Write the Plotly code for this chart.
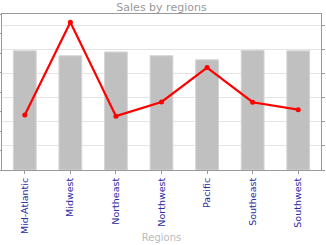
import plotly.graph_objects as go

regions = ["Mid-Atlantic", "Midwest", "Northeast", "Northwest", "Pacific", "Southeast", "Southwest"]
sales = [6.11, 5.86, 6.05, 5.86, 5.65, 6.13, 6.11]
growth = [2.29, 6.15, 2.24, 2.83, 4.26, 2.82, 2.51]

axis_col = "#999999"

fig = go.Figure()
fig.add_trace(go.Bar(
    x=regions, y=sales, yaxis="y",
    marker=dict(color="#c0c0c0", line=dict(color="#d4d4d4", width=1)),
    showlegend=False,
))
fig.add_trace(go.Scatter(
    x=regions, y=growth, yaxis="y2", mode="lines+markers",
    line=dict(color="#ff0000", width=2.2),
    marker=dict(color="#ff0000", size=5),
    showlegend=False,
))

fig.update_layout(
    width=326, height=245,
    margin=dict(l=2, r=5, t=14, b=75, pad=0),
    paper_bgcolor="white", plot_bgcolor="white",
    font=dict(family="DejaVu Sans", size=10, color="#666666"),
    title=dict(text="Sales by regions", x=0.5, xref="paper", xanchor="center",
               y=1, yref="container", yanchor="top", pad=dict(t=3),
               font=dict(family="DejaVu Sans", size=11, color="#999999")),
    bargap=0.5,
    xaxis=dict(
        showline=True, linecolor=axis_col, linewidth=1, mirror=True,
        ticks="outside", ticklen=3, tickcolor=axis_col,
        tickangle=-90, tickfont=dict(family="DejaVu Sans", size=9.5, color="#2b2ba6"),
        showgrid=False, automargin=False,
        title=dict(text="Regions", standoff=0,
                   font=dict(family="DejaVu Sans", size=10, color="#bbbbbb")),
    ),
    yaxis=dict(
        range=[0, 8], dtick=1, showgrid=False, zeroline=False,
        showline=True, linecolor=axis_col, linewidth=1,
        ticks="outside", ticklen=3, tickcolor=axis_col,
        tickfont=dict(size=9, color="#666666"), automargin=False,
    ),
    yaxis2=dict(
        range=[0, 6.49], dtick=1, overlaying="y", side="right",
        showgrid=True, gridcolor="#e4e4e4", gridwidth=1, zeroline=False,
        showline=True, linecolor=axis_col, linewidth=1,
        ticks="outside", ticklen=3, tickcolor=axis_col,
        tickfont=dict(size=9, color="#666666"), automargin=False,
    ),
)

fig.write_html("out.html")
